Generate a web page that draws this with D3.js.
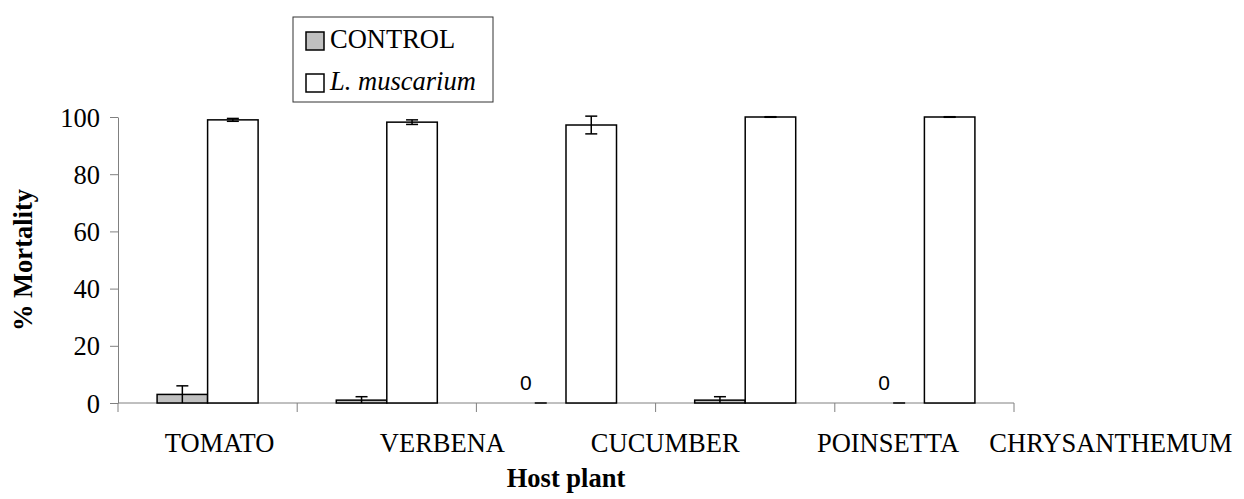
<!DOCTYPE html>
<html>
<head>
<meta charset="utf-8">
<script src="https://cdn.jsdelivr.net/npm/d3@7"></script>
<style>
  body { margin: 0; background: #fff; }
  svg { display: block; }
  text { font-family: "Liberation Serif", "Times New Roman", serif; fill: #000; }
</style>
</head>
<body>
<svg id="chart" width="1244" height="499"></svg>
<script>
const categories = ["TOMATO", "VERBENA", "CUCUMBER", "POINSETTA", "CHRYSANTHEMUM"];
const series = ["CONTROL", "L. muscarium"];
const controlValues = [3, 1, 0, 1, 0];
const controlErrors = [3, 1.2, 0, 1.2, 0];
const muscariumValues = [99, 98.2, 97.2, 100, 100];
const muscariumErrors = [0.5, 0.8, 3.1, 0.1, 0.1];
const yTicks = [0, 20, 40, 60, 80, 100];
const fills = ["#c0c0c0", "#ffffff"];

const margin = {top: 117, left: 118, right: 230, bottom: 96};
const width = 1244, height = 499;
const fontSize = "26.5px";

const svg = d3.select("#chart");

const x0 = d3.scaleBand().domain(categories).range([margin.left, width - margin.right]).padding(0);
const x1 = d3.scaleBand().domain(series).range([0, x0.bandwidth()]).paddingOuter(0.774);
const y = d3.scaleLinear().domain([0, 100]).range([height - margin.bottom, margin.top]);
// the category labels sit on their own, wider spacing in the original
const xLabel = d3.scalePoint().domain(categories).range([219.6, 1110.8]);

const rows = categories.map((c, i) => ({
    cat: c,
    bars: [
        {s: series[0], v: controlValues[i], e: controlErrors[i], fill: fills[0]},
        {s: series[1], v: muscariumValues[i], e: muscariumErrors[i], fill: fills[1]}
    ]
}));

// y axis
const yAxis = svg.append("g")
    .attr("transform", `translate(${margin.left},0)`)
    .call(d3.axisLeft(y).tickValues(yTicks).tickSize(8).tickPadding(10).tickSizeOuter(0));
yAxis.attr("font-family", null).attr("font-size", null);
yAxis.select(".domain").attr("stroke", "#808080");
yAxis.selectAll(".tick line").attr("stroke", "#808080");
yAxis.selectAll(".tick text").style("font-size", fontSize).attr("dy", "0.34em");

// x axis line with ticks at band edges
const xg = svg.append("g").attr("transform", `translate(0,${y(0)})`);
xg.append("line")
    .attr("x1", x0.range()[0]).attr("x2", x0.range()[1])
    .attr("stroke", "#808080");
const edges = categories.map(c => x0(c)).concat([x0.range()[1]]);
xg.selectAll(".edge").data(edges).join("line")
    .attr("class", "edge")
    .attr("x1", d => d).attr("x2", d => d)
    .attr("y1", 0).attr("y2", 9)
    .attr("stroke", "#808080");

svg.append("g").selectAll("text").data(categories).join("text")
    .attr("x", d => xLabel(d))
    .attr("y", y(0) + 49)
    .attr("text-anchor", "middle")
    .style("font-size", fontSize)
    .text(d => d);

// bars
const groups = svg.append("g").selectAll("g").data(rows).join("g")
    .attr("transform", d => `translate(${x0(d.cat)},0)`);

groups.selectAll("rect").data(d => d.bars.filter(b => b.v > 0)).join("rect")
    .attr("x", b => x1(b.s))
    .attr("y", b => y(b.v))
    .attr("width", x1.bandwidth())
    .attr("height", b => y(0) - y(b.v))
    .attr("fill", b => b.fill)
    .attr("stroke", "#000")
    .attr("stroke-width", 1.5);

// error bars
const cap = 6;
const err = groups.selectAll(".err").data(d => d.bars).join("g").attr("class", "err")
    .attr("transform", b => `translate(${x1(b.s) + x1.bandwidth() / 2},0)`);
err.append("line")
    .attr("y1", b => y(Math.max(0, b.v - b.e))).attr("y2", b => y(b.v + b.e))
    .attr("stroke", "#000").attr("stroke-width", 1.5);
err.append("line")
    .attr("x1", -cap).attr("x2", cap)
    .attr("y1", b => y(b.v + b.e)).attr("y2", b => y(b.v + b.e))
    .attr("stroke", "#000").attr("stroke-width", 1.5);
err.filter(b => b.v - b.e > 0).append("line")
    .attr("x1", -cap).attr("x2", cap)
    .attr("y1", b => y(b.v - b.e)).attr("y2", b => y(b.v - b.e))
    .attr("stroke", "#000").attr("stroke-width", 1.5);

// zero labels
groups.selectAll(".zero").data(d => d.bars.filter(b => b.v === 0)).join("text")
    .attr("class", "zero")
    .attr("x", b => x1(b.s) + x1.bandwidth() / 2 - 15)
    .attr("y", y(0) - 13)
    .attr("text-anchor", "middle")
    .style("font-family", "'Liberation Sans', Arial, sans-serif")
    .style("font-size", "21px")
    .text("0");

// axis titles
svg.append("text")
    .attr("transform", `translate(32,${(y(0) + y(100)) / 2}) rotate(-90)`)
    .attr("text-anchor", "middle")
    .style("font-size", fontSize)
    .style("font-weight", "bold")
    .text("% Mortality");

svg.append("text")
    .attr("x", (x0.range()[0] + x0.range()[1]) / 2)
    .attr("y", 487)
    .attr("text-anchor", "middle")
    .style("font-size", fontSize)
    .style("font-weight", "bold")
    .text("Host plant");

// legend
const legend = svg.append("g").attr("transform", "translate(293,17)");
legend.append("rect")
    .attr("width", 200).attr("height", 85)
    .attr("fill", "#fff").attr("stroke", "#333").attr("stroke-width", 1);
const items = legend.selectAll(".item").data(series).join("g").attr("class", "item")
    .attr("transform", (d, i) => `translate(13,${15 + i * 42})`);
items.append("rect")
    .attr("width", 18).attr("height", 18)
    .attr("fill", (d, i) => fills[i])
    .attr("stroke", "#000").attr("stroke-width", 1.5);
items.append("text")
    .attr("x", 24).attr("y", 16)
    .style("font-size", fontSize)
    .style("font-style", (d, i) => i === 1 ? "italic" : "normal")
    .text(d => d);
</script>
</body>
</html>
